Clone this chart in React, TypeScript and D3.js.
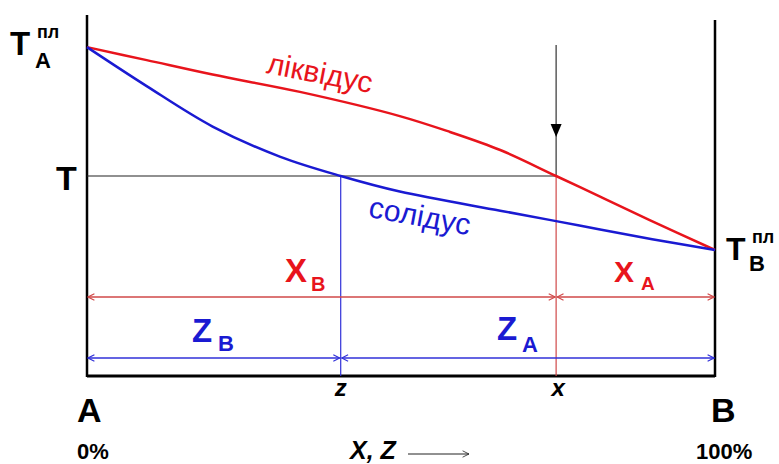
import React from "react";
import * as d3 from "d3";

// Phase diagram of a binary system A–B with complete solubility
const liquidusComp = [0, 9.5, 20, 33.9, 49.8, 57.8, 65.8, 74.7, 81.7, 89.6, 100];
const liquidusTemp = [91.1, 87.5, 83.5, 78.7, 72.0, 67.6, 62.6, 55.4, 49.7, 43.2, 34.9];
const solidusComp = [0, 9.5, 20, 30.8, 40.4, 49.8, 65.8, 74.7, 81.7, 90, 100];
const solidusTemp = [91.1, 80.3, 69.1, 60.7, 55.4, 51.1, 45.8, 42.9, 40.6, 37.9, 34.9];

const tieTemp = 55.4; // temperature T
const zComp = 40.4; // solid composition z
const xComp = 74.7; // alloy composition x
const coolStartTemp = 91.7; // start of the cooling arrow
const rightAxisTop = 98.6;

const W = 779;
const H = 464;
const FONT = "'Liberation Sans', Arial, sans-serif";
const RED = "#e8141c";
const BLUE = "#1a1ad2";
const RED_DIM = "#d04848";
const BLUE_DIM = "#3030d8";

export default function App() {
  const xs = d3.scaleLinear().domain([0, 100]).range([87, 715]);
  const ys = d3.scaleLinear().domain([0, 100]).range([376, 15]);

  const line = d3
    .line<[number, number]>()
    .x((d) => xs(d[0]))
    .y((d) => ys(d[1]))
    .curve(d3.curveCatmullRom.alpha(0.5));

  const liq = liquidusComp.map((c, i) => [c, liquidusTemp[i]] as [number, number]);
  const sol = solidusComp.map((c, i) => [c, solidusTemp[i]] as [number, number]);

  const x0 = xs(0);
  const x1 = xs(100);
  const yBot = ys(0);
  const yT = ys(tieTemp);
  const xz = xs(zComp);
  const xx = xs(xComp);
  const yRed = 297;
  const yBlue = 358;
  const yArrowTip = 137;

  return (
    <svg width={W} height={H} style={{ position: "absolute", left: 0, top: 0, background: "#fff" }}>
      <defs>
        <marker id="chevRed" viewBox="0 0 10 10" refX="9" refY="5" markerWidth="8" markerHeight="8" markerUnits="userSpaceOnUse" orient="auto-start-reverse">
          <path d="M1,1 L9,5 L1,9" fill="none" stroke={RED_DIM} strokeWidth="1.4" />
        </marker>
        <marker id="chevBlue" viewBox="0 0 10 10" refX="9" refY="5" markerWidth="8" markerHeight="8" markerUnits="userSpaceOnUse" orient="auto-start-reverse">
          <path d="M1,1 L9,5 L1,9" fill="none" stroke={BLUE_DIM} strokeWidth="1.4" />
        </marker>
        <marker id="chevBlack" viewBox="0 0 10 10" refX="9" refY="5" markerWidth="8" markerHeight="8" markerUnits="userSpaceOnUse" orient="auto">
          <path d="M1,1 L9,5 L1,9" fill="none" stroke="#222" strokeWidth="1" />
        </marker>
      </defs>

      {/* frame */}
      <line x1={x0} y1={ys(100)} x2={x0} y2={yBot + 1} stroke="#000" strokeWidth={2.5} />
      <line x1={x1} y1={ys(rightAxisTop)} x2={x1} y2={yBot + 1} stroke="#000" strokeWidth={2.5} />
      <line x1={x0} y1={yBot} x2={x1} y2={yBot} stroke="#000" strokeWidth={3} />

      {/* tie line at T and verticals */}
      <line x1={x0} y1={yT} x2={xx} y2={yT} stroke="#222" strokeWidth={1.2} />
      <line x1={xz} y1={yT} x2={xz} y2={yBot} stroke={BLUE_DIM} strokeWidth={1.2} />
      <line x1={xx} y1={yT} x2={xx} y2={yBot} stroke={RED_DIM} strokeWidth={1.2} />

      {/* cooling arrow */}
      <line x1={xx} y1={ys(coolStartTemp)} x2={xx} y2={yT} stroke="#333" strokeWidth={1.2} />
      <path d={`M${xx - 5.5},${yArrowTip - 13} L${xx + 5.5},${yArrowTip - 13} L${xx},${yArrowTip} Z`} fill="#000" />

      {/* lever segments */}
      <line x1={x0 + 1} y1={yRed} x2={xx - 1} y2={yRed} stroke={RED_DIM} strokeWidth={1.5} markerStart="url(#chevRed)" markerEnd="url(#chevRed)" />
      <line x1={xx + 1} y1={yRed} x2={x1 - 1} y2={yRed} stroke={RED_DIM} strokeWidth={1.5} markerStart="url(#chevRed)" markerEnd="url(#chevRed)" />
      <line x1={x0 + 1} y1={yBlue} x2={xz - 1} y2={yBlue} stroke={BLUE_DIM} strokeWidth={1.5} markerStart="url(#chevBlue)" markerEnd="url(#chevBlue)" />
      <line x1={xz + 1} y1={yBlue} x2={x1 - 1} y2={yBlue} stroke={BLUE_DIM} strokeWidth={1.5} markerStart="url(#chevBlue)" markerEnd="url(#chevBlue)" />

      {/* liquidus & solidus */}
      <path d={line(liq) ?? ""} fill="none" stroke={RED} strokeWidth={2.5} />
      <path d={line(sol) ?? ""} fill="none" stroke={BLUE} strokeWidth={2.5} />

      <g fontFamily={FONT}>
        <text x={318} y={83} fill={RED} fontSize={30} textAnchor="middle" transform="rotate(11 318 83)">ліквідус</text>
        <text x={418} y={226} fill={BLUE} fontSize={30} textAnchor="middle" transform="rotate(10.5 418 226)">солідус</text>

        {/* melting points */}
        <g fontWeight="bold" fill="#000">
          <text x={10} y={55} fontSize={33}>T</text>
          <text x={35} y={68} fontSize={22}>A</text>
          <text x={37} y={38} fontSize={18}>пл</text>

          <text x={726} y={260} fontSize={32}>T</text>
          <text x={749} y={271} fontSize={22}>B</text>
          <text x={752} y={243} fontSize={18}>пл</text>

          <text x={56} y={190} fontSize={34}>T</text>

          <text x={77} y={422} fontSize={34}>A</text>
          <text x={711} y={422} fontSize={34}>B</text>
          <text x={77} y={459} fontSize={22}>0%</text>
          <text x={696} y={459} fontSize={22}>100%</text>

          <text x={xz} y={396} fontSize={24} fontStyle="italic" textAnchor="middle">z</text>
          <text x={xx + 2} y={396} fontSize={24} fontStyle="italic" textAnchor="middle">x</text>
          <text x={350} y={459} fontSize={25} fontStyle="italic">X, Z</text>
        </g>
        <line x1={408} y1={454} x2={469} y2={454} stroke="#222" strokeWidth={1} markerEnd="url(#chevBlack)" />

        {/* lever labels */}
        <g fontWeight="bold">
          <text x={285} y={282} fontSize={33} fill={RED}>X</text>
          <text x={311} y={291} fontSize={20} fill={RED}>B</text>
          <text x={614} y={282} fontSize={30} fill={RED}>X</text>
          <text x={641} y={290} fontSize={19} fill={RED}>A</text>

          <text x={192} y={342} fontSize={33} fill={BLUE}>Z</text>
          <text x={218} y={351} fontSize={22} fill={BLUE}>B</text>
          <text x={497} y={340} fontSize={33} fill={BLUE}>Z</text>
          <text x={522} y={352} fontSize={22} fill={BLUE}>A</text>
        </g>
      </g>
    </svg>
  );
}
